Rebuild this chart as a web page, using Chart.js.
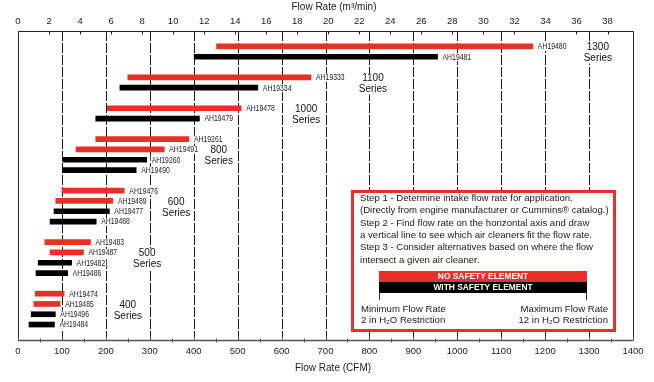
<!DOCTYPE html>
<html><head><meta charset="utf-8">
<script src="https://cdn.jsdelivr.net/npm/chart.js@4"></script>
<style>html,body{margin:0;padding:0;background:#fff}canvas{display:block}</style>
</head><body>
<canvas id="c" width="654" height="382"></canvas>
<script>
// ---- data ----
const seriesNames = ['1300', '1100', '1000', '800', '600', '500', '400'];
const partNumbers = ['AH19480','AH19481','AH19333','AH19334','AH19478','AH19479',
  'AH19261','AH19491','AH19260','AH19490','AH19476','AH19489','AH19477','AH19488',
  'AH19483','AH19487','AH19482','AH19486','AH19474','AH19485','AH19496','AH19484'];
const partSeries = ['1300','1300','1100','1100','1000','1000',
  '800','800','800','800','600','600','600','600',
  '500','500','500','500','400','400','400','400'];
const minCFM = [452,401,250,232,203,177,177,132,102,102,100,86,82,73,61,73,46,41,39,36,30,25];
const maxCFM = [1172,955,667,546,508,413,389,333,293,269,242,216,208,178,165,149,122,113,105,96,85,83];
const withSafety = [false,true,false,true,false,true,false,false,true,true,false,false,true,true,false,false,true,true,false,false,true,true];
const cfmTicks = [0,100,200,300,400,500,600,700,800,900,1000,1100,1200,1300,1400];
const m3Ticks = [0,2,4,6,8,10,12,14,16,18,20,22,24,26,28,30,32,34,36,38];
const seriesLabelCFM = [1320, 808, 656, 457, 360, 294, 250];
const CFM_PER_M3 = 35.3147;

const RED = '#e8302a', BLACK = '#000000';

// ---- build category rows (blank rows separate series) ----
const rowLabels = [''], rowData = [null], rowColors = ['#fff'], rowPart = [null];
seriesNames.forEach((s, si) => {
  partNumbers.forEach((p, i) => {
    if (partSeries[i] !== s) return;
    rowLabels.push(p); rowData.push([minCFM[i], maxCFM[i]]);
    rowColors.push(withSafety[i] ? BLACK : RED); rowPart.push(p);
  });
  rowLabels.push(''); rowData.push(null); rowColors.push('#fff'); rowPart.push(null);
});

const FONT = '"Liberation Sans", Arial, Helvetica, sans-serif';

const drawPlugin = {
  id: 'drawPlugin',
  beforeDraw(chart) {
    const ctx = chart.ctx;
    ctx.save(); ctx.fillStyle = '#fff'; ctx.fillRect(0, 0, chart.width, chart.height); ctx.restore();
  },
  beforeDatasetsDraw(chart) {
    const {ctx, chartArea: a, scales} = chart;
    const xs = scales.x, x2 = scales.x2;
    ctx.save();
    // dashed grid lines
    ctx.strokeStyle = '#1a1a1a'; ctx.lineWidth = 1; ctx.setLineDash([10, 2]);
    cfmTicks.forEach(v => {
      if (v === 0 || v === 1400) return;
      const px = Math.round(xs.getPixelForValue(v)) + 0.5;
      ctx.beginPath(); ctx.moveTo(px, a.top); ctx.lineTo(px, a.bottom); ctx.stroke();
    });
    ctx.setLineDash([]);
    // frame
    ctx.strokeStyle = '#222';
    const L = Math.round(a.left) + 0.5, R = Math.round(a.right) + 0.5, T = Math.round(a.top) + 0.5, B = Math.round(a.bottom) + 0.5;
    ctx.beginPath(); ctx.moveTo(L, T); ctx.lineTo(R, T); ctx.moveTo(L, T); ctx.lineTo(L, B); ctx.moveTo(R, T); ctx.lineTo(R, B); ctx.stroke();
    ctx.strokeStyle = '#555'; ctx.lineWidth = 1.5;
    ctx.beginPath(); ctx.moveTo(a.left, B); ctx.lineTo(a.right, B); ctx.stroke();
    // top ticks
    ctx.lineWidth = 1; ctx.strokeStyle = '#222';
    m3Ticks.forEach(v => {
      const px = Math.round(x2.getPixelForValue(v)) + 0.5;
      ctx.beginPath(); ctx.moveTo(px, T); ctx.lineTo(px, T + 3); ctx.stroke();
    });
    // bottom minor ticks
    ctx.strokeStyle = '#555';
    for (let v = 50; v < 1400; v += 100) {
      const px = Math.round(xs.getPixelForValue(v)) + 0.5;
      ctx.beginPath(); ctx.moveTo(px, B - 2); ctx.lineTo(px, B + 2); ctx.stroke();
    }
    cfmTicks.forEach(v => {
      const px = Math.round(xs.getPixelForValue(v)) + 0.5;
      ctx.beginPath(); ctx.moveTo(px, B - 4); ctx.lineTo(px, B); ctx.stroke();
    });
    ctx.restore();
  },
  afterDatasetsDraw(chart) {
    const {ctx, chartArea: a, scales} = chart;
    const xs = scales.x, ys = scales.y;
    const meta = chart.getDatasetMeta(0);
    ctx.save();
    // bar labels (on white backing)
    ctx.textBaseline = 'middle'; ctx.textAlign = 'left';
    ctx.font = '8.6px ' + FONT;
    meta.data.forEach((el, i) => {
      if (!rowPart[i]) return;
      const x = Math.max(el.x, el.base) + 5;
      const w = ctx.measureText(rowPart[i]).width * 0.8;
      ctx.fillStyle = '#fff'; ctx.fillRect(x - 1, el.y - 3.5, w + 2, 8);
      ctx.fillStyle = '#222';
      ctx.save(); ctx.translate(x, el.y + 0.5); ctx.scale(0.8, 1);
      ctx.fillText(rowPart[i], 0, 0); ctx.restore();
    });
    // series labels
    ctx.textAlign = 'center'; ctx.font = '10px ' + FONT;
    seriesNames.forEach((s, si) => {
      const rows = [];
      rowPart.forEach((p, i) => { if (p && partSeries[partNumbers.indexOf(p)] === s) rows.push(i); });
      const y0 = ys.getPixelForValue(rows[0]), y1 = ys.getPixelForValue(rows[rows.length - 1]);
      const mid = (y0 + y1) / 2;
      const x = xs.getPixelForValue(seriesLabelCFM[si]);
      const w = ctx.measureText('Series').width;
      ctx.fillStyle = '#fff'; ctx.fillRect(x - w / 2 - 1, mid - 9, w + 2, 21);
      ctx.fillStyle = '#111';
      ctx.fillText(s, x, mid - 4);
      ctx.fillText('Series', x, mid + 7);
    });
    // axis titles
    ctx.fillStyle = '#222'; ctx.font = '10px ' + FONT;
    ctx.fillText('Flow Rate (m³/min)', 334, 7);
    ctx.fillText('Flow Rate (CFM)', 333, 368);
    // instruction box
    ctx.fillStyle = '#fff'; ctx.fillRect(352, 191, 263, 140);
    ctx.strokeStyle = RED; ctx.lineWidth = 3; ctx.strokeRect(352.5, 191.5, 262, 139);
    ctx.fillStyle = '#1a1a1a'; ctx.textAlign = 'left'; ctx.font = '9.6px ' + FONT;
    const lines = ['Step 1 - Determine intake flow rate for application.',
      '(Directly from engine manufacturer or Cummins® catalog.)',
      'Step 2 - Find flow rate on the horizontal axis and draw',
      'a vertical line to see which air cleaners fit the flow rate.',
      'Step 3 - Consider alternatives based on where the flow',
      'intersect a given air cleaner.'];
    lines.forEach((t, i) => ctx.fillText(t, 360, 198.5 + i * 12.3));
    ctx.fillStyle = RED; ctx.fillRect(379, 271, 208, 11);
    ctx.fillStyle = BLACK; ctx.fillRect(379, 282, 208, 11);
    ctx.fillStyle = '#fff'; ctx.textAlign = 'center'; ctx.font = 'bold 8.4px ' + FONT;
    ctx.fillText('NO SAFETY ELEMENT', 483, 277);
    ctx.fillText('WITH SAFETY ELEMENT', 483, 288);
    ctx.strokeStyle = '#333'; ctx.lineWidth = 1;
    ctx.beginPath(); ctx.moveTo(379.5, 293); ctx.lineTo(379.5, 300); ctx.moveTo(586.5, 293); ctx.lineTo(586.5, 300); ctx.stroke();
    ctx.fillStyle = '#1a1a1a'; ctx.font = '9.6px ' + FONT;
    ctx.textAlign = 'left';
    ctx.fillText('Minimum Flow Rate', 361, 309);
    ctx.fillText('2 in H₂O Restriction', 361, 320);
    ctx.textAlign = 'right';
    ctx.fillText('Maximum Flow Rate', 608, 309);
    ctx.fillText('12 in H₂O Restriction', 608, 320);
    ctx.restore();
  }
};

new Chart(document.getElementById('c'), {
  type: 'bar',
  data: {
    labels: rowLabels,
    datasets: [{
      data: rowData,
      backgroundColor: rowColors,
      borderWidth: 0,
      barThickness: 5,
      xAxisID: 'x', yAxisID: 'y'
    }]
  },
  options: {
    indexAxis: 'y',
    responsive: false,
    animation: false,
    events: [],
    layout: {padding: {left: 18, right: 21, top: 0, bottom: 0}},
    plugins: {legend: {display: false}, tooltip: {enabled: false}},
    scales: {
      y: {type: 'category', display: false, offset: true},
      x: {
        type: 'linear', position: 'bottom', min: 0, max: 1400,
        grid: {display: false, drawTicks: false}, border: {display: false},
        afterBuildTicks: s => { s.ticks = cfmTicks.map(v => ({value: v})); },
        afterFit: s => { s.height = 42; },
        ticks: {padding: 6, color: '#222', font: {family: FONT, size: 9.5}, maxRotation: 0, autoSkip: false,
          callback: v => String(v)}
      },
      x2: {
        type: 'linear', position: 'top', min: 0, max: 1400 / CFM_PER_M3,
        grid: {display: false, drawTicks: false}, border: {display: false},
        afterBuildTicks: s => { s.ticks = m3Ticks.map(v => ({value: v})); },
        afterFit: s => { s.height = 31; },
        ticks: {padding: 4, color: '#222', font: {family: FONT, size: 9.5}, maxRotation: 0, autoSkip: false,
          callback: v => String(v)}
      }
    }
  },
  plugins: [drawPlugin]
});
</script>
</body></html>
